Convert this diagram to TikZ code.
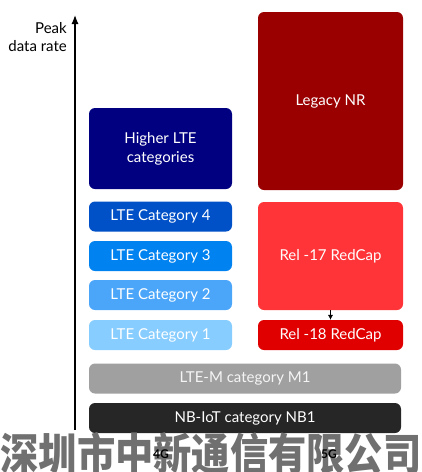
\documentclass[tikz,border=0pt]{standalone}
\usepackage{fontspec}
\setmainfont{Lato}
\newfontfamily\cjkfont{Noto Sans CJK SC}
\usetikzlibrary{arrows.meta}

\definecolor{navy}{RGB}{0,0,128}
\definecolor{cattwo}{RGB}{75,166,250}
\definecolor{catone}{RGB}{135,205,255}
\definecolor{catthree}{RGB}{0,130,240}
\definecolor{catfour}{RGB}{0,80,200}
\definecolor{legacy}{RGB}{155,0,0}
\definecolor{relseventeen}{RGB}{255,52,56}
\definecolor{releighteen}{RGB}{224,0,0}
\definecolor{ltemgray}{RGB}{160,160,160}
\definecolor{nbdark}{RGB}{38,38,38}
\definecolor{wmark}{RGB}{112,112,112}

\begin{document}
\begin{tikzpicture}[x=1pt,y=-1pt,
    box/.style={rounded corners=6pt, text=white, align=center, inner sep=0pt,
        font=\fontsize{15}{19}\selectfont},
    lte/.style={box, minimum width=143pt, minimum height=30pt},
    nr/.style={box, minimum width=145pt},
    wide/.style={box, minimum width=312pt, minimum height=30pt}]
    \useasboundingbox (0,0) rectangle (422,472);
    % axis
    \coordinate (ybot) at (75,430); \coordinate (ytop) at (75,15);
    \draw[line width=1.2pt,-{Latex[length=9pt,width=7pt]}] (ybot)--(ytop);
    \node[anchor=north east, align=right, font=\fontsize{15}{18}\selectfont, inner sep=0pt]
        (ylab) at (67,22) {Peak\\data rate};
    % 4G side
    \node[box, fill=navy, minimum width=143pt, minimum height=81pt] (hlte) at (160.5,148.5) {Higher LTE\\categories};
    \node[lte, fill=catfour] (cat4) at (160.5,216.5) {LTE Category 4};
    \node[lte, fill=catthree] (cat3) at (160.5,256) {LTE Category 3};
    \node[lte, fill=cattwo] (cat2) at (160.5,295) {LTE Category 2};
    \node[lte, fill=catone] (cat1) at (160.5,335) {LTE Category 1};
    % 5G side
    \node[nr, fill=legacy, minimum height=178pt] (legnr) at (330.5,101) {Legacy NR};
    \node[nr, fill=relseventeen, minimum height=108pt] (rel17) at (330.5,256) {Rel -17 RedCap};
    \node[nr, fill=releighteen, minimum height=30pt] (rel18) at (330.5,335) {Rel -18 RedCap};
    \draw[-{Latex[length=5pt,width=5pt]}] (rel17)--(rel18);
    % IoT
    \node[wide, fill=ltemgray, text=white!92!gray] (ltem) at (245,378.5) {LTE-M category M1};
    \node[wide, fill=nbdark] (nbiot) at (245,418) {NB-IoT category NB1};
    % bottom
    \node[text=wmark, font=\cjkfont\bfseries\fontsize{44}{44}\selectfont, xscale=0.87, inner sep=0pt]
        (wm) at (211,454) {深圳市中新通信有限公司};
    \node[font=\fontsize{12}{14}\selectfont\bfseries] (g4) at (161,454) {4G};
    \node[font=\fontsize{12}{14}\selectfont\bfseries] (g5) at (329,454) {5G};
\end{tikzpicture}
\end{document}
